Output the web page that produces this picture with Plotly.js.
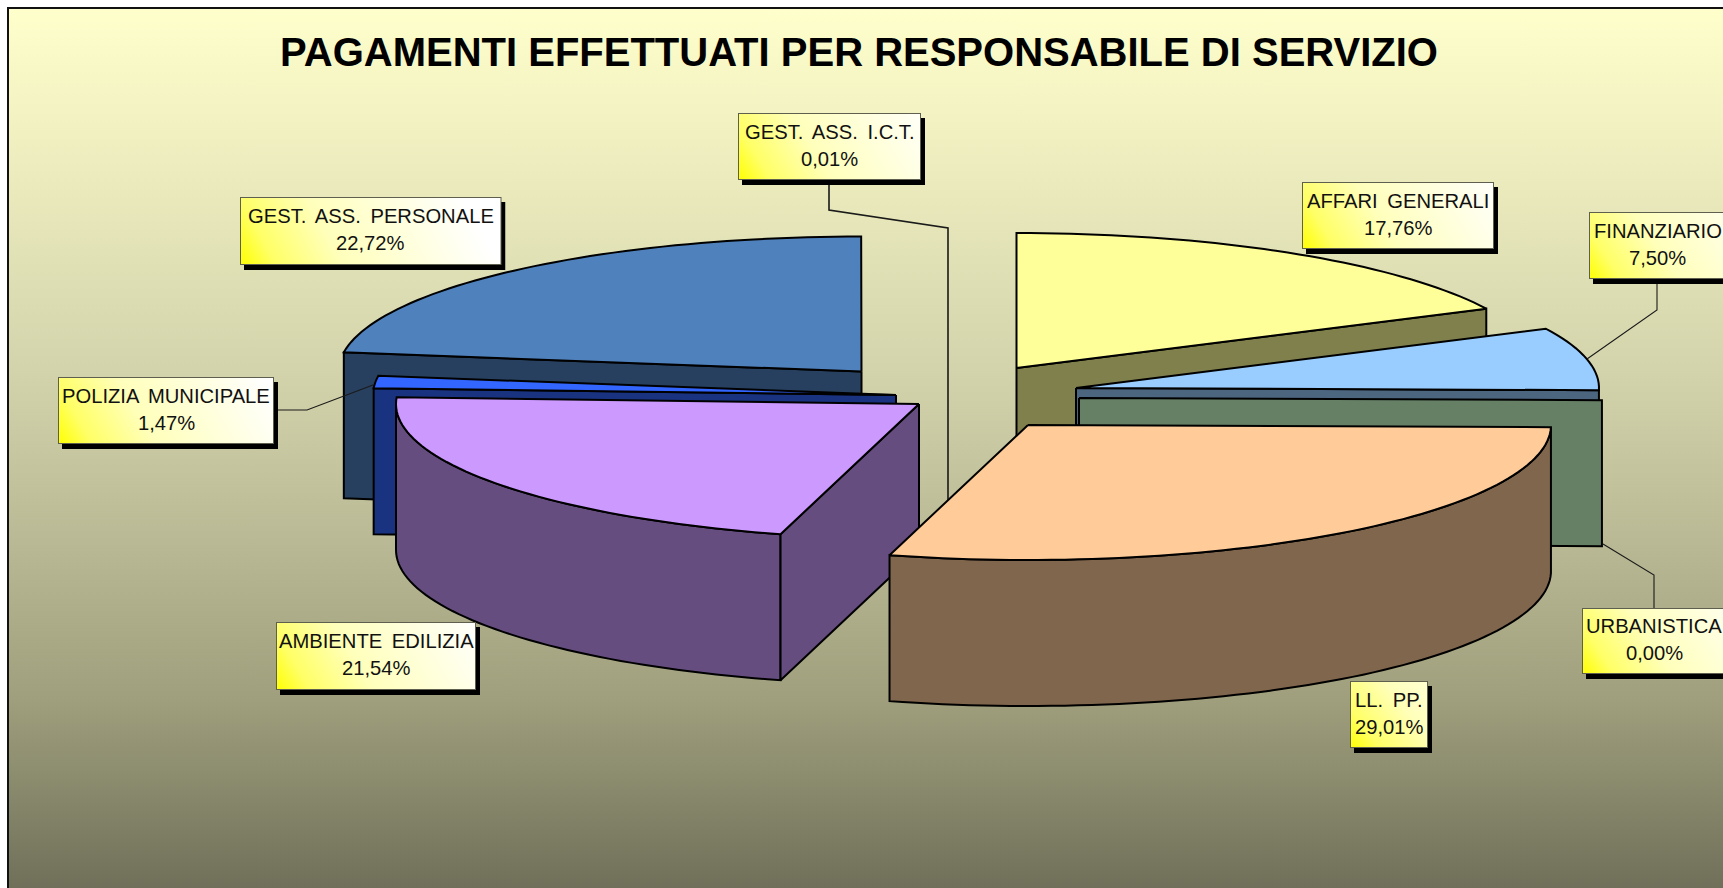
<!DOCTYPE html>
<html><head><meta charset="utf-8">
<script src="https://cdn.plot.ly/plotly-3.0.1.min.js"></script>
<style>
html,body{margin:0;padding:0;width:1723px;height:888px;overflow:hidden;background:#fff}
#bg{position:absolute;left:7px;top:7px;width:1716px;height:881px;box-sizing:border-box;border-left:2px solid #111;border-top:2px solid #111;
background:linear-gradient(180deg,#ffffcc 0%,#d6d6ae 39%,#b9b995 60.5%,#9f9f7d 78.6%,#70705a 100%)}
#chart{position:absolute;left:0;top:0;width:1723px;height:888px}
.annotation-text{word-spacing:4px}
</style></head><body>
<div id="bg"></div><div id="chart"></div>
<script>
// Data
const categories = ["AFFARI GENERALI","FINANZIARIO","URBANISTICA","LL. PP.","AMBIENTE EDILIZIA","POLIZIA MUNICIPALE","GEST. ASS. PERSONALE","GEST. ASS. I.C.T."];
const shares = [17.76,7.50,0.00,29.01,21.54,1.47,22.72,0.01];

// Pie look: exploded apex of every slice, ellipse radii and thickness
const apexX = [1016.5,1076,1079,1028,919,896,861.5,948];
const apexY = [368,388,398,425,404,395,371.5,330];
const topColors  = ["#FFFF99","#99CCFF","#CCFFCC","#FFCC99","#CC99FF","#3366FF","#4F81BD","#FFFFFF"];
const sideColors = ["#80804D","#4D6680","#668066","#80664D","#664D80","#1A3380","#27405F","#808080"];
const RX = 523, RY = 135, DEPTH = 146;

// Label boxes
const boxLeft = [1302,1589,1582,1350,276,58,240,738];
const boxRight= [1494,1726,1726,1428,476,274,501.5,921];
const boxTop  = [182,212,608,681,622,377,197,113];
const boxBot  = [249,279,674,748,690,444,265,180];

// Leader lines
const leaders = {
  ict:[[829,180],[829,210],[948,228],[948,512]],
  pol:[[274,410],[307,410],[373,385]],
  fin:[[1657,279],[1657,310],[1587,359]],
  urb:[[1603,544],[1654,575],[1654,608]]
};

const total = shares.reduce((a,b)=>a+b,0);
const starts = [], ends = [];
shares.reduce((acc,v,i)=>{starts[i]=acc/total*360; ends[i]=(acc+v)/total*360; return acc+v;},0);

function pt(i,deg,dz){const r=deg*Math.PI/180;return [apexX[i]+RX*Math.sin(r),apexY[i]-RY*Math.cos(r)+(dz||0)];}
function arc(i,a0,a1,dz){const n=Math.max(2,Math.ceil(Math.abs(a1-a0)/1.5));const o=[];for(let k=0;k<=n;k++)o.push(pt(i,a0+(a1-a0)*k/n,dz));return o;}
const traces=[];
function poly(points,fill,name,w){
  const c=points.concat([points[0]]);
  traces.push({type:'scatter',mode:'lines',x:c.map(p=>p[0]),y:c.map(p=>p[1]),fill:'toself',fillcolor:fill,
    line:{color:'#000',width:w||2,simplify:false},name:name,hoverinfo:'name',showlegend:false});
}
function line(points,w){
  traces.push({type:'scatter',mode:'lines',x:points.map(p=>p[0]),y:points.map(p=>p[1]),
    line:{color:'#1a1a1a',width:w||1.1},hoverinfo:'skip',showlegend:false});
}
function topFace(i){poly([[apexX[i],apexY[i]]].concat(arc(i,starts[i],ends[i])),topColors[i],categories[i]);}
// flat cut face from the apex out to the rim at the given angle
function cutFace(i,deg){
  const A=[apexX[i],apexY[i]],P=pt(i,deg);
  poly([A,P,[P[0],P[1]+DEPTH],[A[0],A[1]+DEPTH]],sideColors[i],categories[i]);
}
// outer wall between two angles
function wall(i,a0,a1){
  poly(arc(i,a0,a1).concat(arc(i,a1,a0,DEPTH)),sideColors[i],categories[i]);
}

// back-to-front
cutFace(6,starts[6]); topFace(6);                 // personale
cutFace(5,starts[5]); topFace(5);                 // polizia
wall(4,starts[4],Math.min(ends[4],270)); cutFace(4,starts[4]); topFace(4); // ambiente
cutFace(0,ends[0]); topFace(0);                   // affari
cutFace(1,ends[1]); topFace(1);                   // finanziario
cutFace(2,ends[2]);                               // urbanistica
line(leaders.ict,1.6);
wall(3,starts[3],ends[3]); topFace(3);            // ll.pp.
line(leaders.pol); line(leaders.fin); line(leaders.urb);

// Label boxes as gradient images (box + drop shadow)
const SX=4, SY=5;
function boxSvg(w,h){
  const s=`<svg xmlns="http://www.w3.org/2000/svg" width="${w+SX}" height="${h+SY}" viewBox="0 0 ${w+SX} ${h+SY}" preserveAspectRatio="none">`+
  `<defs><linearGradient id="g" gradientUnits="userSpaceOnUse" x1="0" y1="${h}" x2="${h*1.6+w*0.35}" y2="${-h*0.6}">`+
  `<stop offset="0" stop-color="#ffff00"/><stop offset="0.14" stop-color="#ffff66"/><stop offset="0.4" stop-color="#ffffbb"/><stop offset="1" stop-color="#ffffff"/></linearGradient></defs>`+
  `<rect x="${SX}" y="${SY}" width="${w}" height="${h}" fill="#000"/>`+
  `<rect x="0.5" y="0.5" width="${w-1}" height="${h-1}" fill="url(#g)" stroke="#5f5f50" stroke-width="1"/></svg>`;
  return 'data:image/svg+xml;charset=utf-8,'+encodeURIComponent(s);
}
const images=categories.map((c,i)=>{
  const w=boxRight[i]-boxLeft[i],h=boxBot[i]-boxTop[i];
  return {source:boxSvg(w,h),xref:'x',yref:'y',x:boxLeft[i],y:boxTop[i],sizex:w+SX,sizey:h+SY,sizing:'stretch',xanchor:'left',yanchor:'top',layer:'above'};
});
const fmt=v=>v.toFixed(2).replace('.',',')+'%';
const font={family:'"Liberation Sans",Arial,sans-serif',size:20.2,color:'#111'};
const annotations=[];
categories.forEach((c,i)=>{
  const cx=(boxLeft[i]+boxRight[i])/2,cy=(boxTop[i]+boxBot[i])/2;
  [[c,-15],[fmt(shares[i]),12]].forEach(([t,d])=>annotations.push({text:t,x:cx,y:cy+d,xref:'x',yref:'y',showarrow:false,xanchor:'center',yanchor:'middle',font:font,borderpad:0}));
});

Plotly.newPlot('chart',traces,{
  width:1723,height:888,margin:{l:0,r:0,t:0,b:0,pad:0},autosize:false,
  paper_bgcolor:'rgba(0,0,0,0)',plot_bgcolor:'rgba(0,0,0,0)',showlegend:false,
  title:{text:'<b>PAGAMENTI EFFETTUATI PER RESPONSABILE DI SERVIZIO</b>',x:859/1723,xref:'paper',xanchor:'center',y:1-52/888,yref:'paper',yanchor:'middle',
    font:{family:'"Liberation Sans",Arial,sans-serif',size:40,color:'#000'}},
  xaxis:{range:[0,1723],visible:false,fixedrange:true},
  yaxis:{range:[888,0],visible:false,fixedrange:true},
  images:images,annotations:annotations
},{displayModeBar:false,responsive:false});
</script></body></html>
